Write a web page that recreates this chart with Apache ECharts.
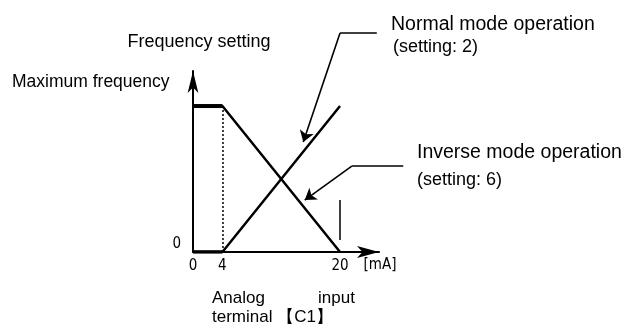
<!DOCTYPE html>
<html>
<head>
<meta charset="utf-8">
<script src="https://cdn.jsdelivr.net/npm/echarts@6/dist/echarts.min.js"></script>
<style>
  html, body { margin: 0; padding: 0; background: #fff; }
  #chart { width: 632px; height: 331px; }
</style>
</head>
<body>
<div id="chart"></div>
<script>
// analog input [mA] vs. frequency setting (% of maximum)
const inputMA = [0, 4, 20];
const normalFreq = [0, 0, 100];
const inverseFreq = [100, 100, 0];
const xTicks = [0, 4, 20];
const yTicks = [0];
const maxFreq = 100;

// leader lines, data coords: start, bend, arrow tip
const normalLeader = [[25, 150], [20, 150], [15, 75.3]];
const inverseLeader = [[28.6, 58.9], [21.6, 58.9], [15.2, 35.6]];
// short upright mark near 20 mA
const markAt20 = [[20, 8.2], [20, 35.6]];

const txtFont = "'Liberation Sans', Arial, sans-serif";
const numFont = "'Liberation Sans Narrow', 'DejaVu Sans Condensed', 'Liberation Sans', sans-serif";

const zip = (xs, ys) => xs.map((x, i) => [x, ys[i]]);

const chart = echarts.init(document.getElementById('chart'));

const lineBase = { type: 'line', symbol: 'none', silent: true, z: 3 };
const linesBase = {
  type: 'lines', coordinateSystem: 'cartesian2d', clip: false, silent: true,
  polyline: false, effect: { show: false }
};

const label = (text, x, y, size, extra) => ({
  type: 'text', x: x, y: y, silent: true,
  style: Object.assign({ text: text, fill: '#000', fontSize: size, fontFamily: txtFont, align: 'left', verticalAlign: 'middle' }, extra || {})
});

chart.setOption({
  animation: false,
  backgroundColor: '#fff',
  grid: { left: 193, right: 253, top: 71, bottom: 79 },
  xAxis: {
    type: 'value', min: 0, max: 25.3,
    splitLine: { show: false },
    axisLine: { lineStyle: { color: '#000', width: 2 }, symbol: ['none', 'arrow'], symbolSize: [9, 22] },
    axisTick: { show: false },
    axisLabel: { customValues: xTicks, color: '#000', fontSize: 15, fontFamily: numFont, margin: 7 }
  },
  yAxis: {
    type: 'value', min: 0, max: 124,
    name: 'Frequency setting', nameLocation: 'end', nameGap: 20,
    nameTextStyle: { color: '#000', fontSize: 18, fontFamily: txtFont, padding: [0, 0, 0, 12] },
    splitLine: { show: false },
    axisLine: { lineStyle: { color: '#000', width: 2 }, symbol: ['none', 'arrow'], symbolSize: [8, 22] },
    axisTick: { show: false },
    axisLabel: { customValues: yTicks, color: '#000', fontSize: 15, fontFamily: numFont, margin: 12, verticalAlign: 'bottom' }
  },
  series: [
    Object.assign({}, lineBase, { data: zip(inputMA, normalFreq), lineStyle: { color: '#000', width: 2.5 } }),
    Object.assign({}, lineBase, { data: zip(inputMA, inverseFreq), lineStyle: { color: '#000', width: 2.5 } }),
    // heavier flat parts below 4 mA
    Object.assign({}, lineBase, { data: zip(inputMA, inverseFreq).slice(0, 2), lineStyle: { color: '#000', width: 4 }, z: 4 }),
    Object.assign({}, lineBase, { data: zip(inputMA, normalFreq).slice(0, 2), lineStyle: { color: '#000', width: 3.5 }, z: 4 }),
    // dotted guide at 4 mA
    Object.assign({}, linesBase, {
      data: [{ coords: [[xTicks[1], 0], [xTicks[1], maxFreq]] }],
      lineStyle: { color: '#000', width: 1.5, type: [2, 2], opacity: 1, curveness: 0 }
    }),
    Object.assign({}, linesBase, {
      data: [{ coords: markAt20 }],
      lineStyle: { color: '#000', width: 1.5, opacity: 1, curveness: 0 }
    }),
    // leader lines
    Object.assign({}, linesBase, {
      data: [normalLeader, inverseLeader].map(l => ({ coords: [l[0], l[1]] })),
      lineStyle: { color: '#000', width: 1.6, opacity: 1, curveness: 0 }
    }),
    Object.assign({}, linesBase, {
      data: [normalLeader, inverseLeader].map(l => ({ coords: [l[1], l[2]] })),
      symbol: ['none', 'arrow'], symbolSize: 11,
      lineStyle: { color: '#000', width: 1.6, opacity: 1, curveness: 0 }
    })
  ],
  graphic: [
    label('Maximum frequency', 12, 82, 17.5),
    label('Normal mode operation', 391, 25, 19.5),
    label('(setting: 2)', 393, 47, 18),
    label('Inverse mode operation', 417, 153, 19.5),
    label('(setting: 6)', 417, 180, 18),
    label('Analog', 212, 298, 17),
    label('input', 318, 298, 17),
    label('terminal \u3010C1\u3011', 212, 317, 17),
    label('[mA]', 380, 265, 15, { fontFamily: numFont, align: 'center' })
  ]
});
</script>
</body>
</html>
